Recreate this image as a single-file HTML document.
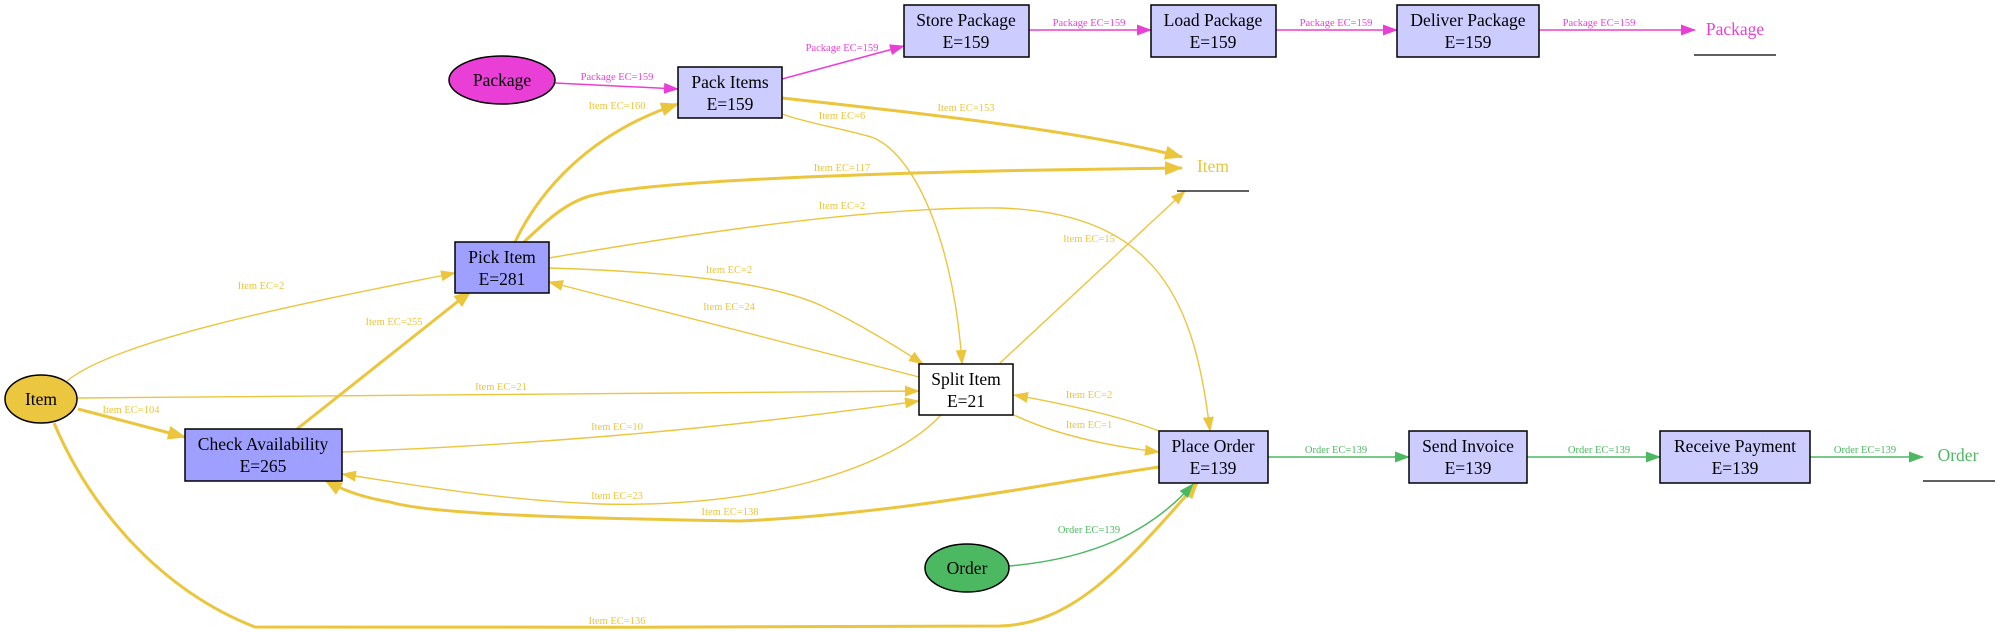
<!DOCTYPE html>
<html><head><meta charset="utf-8"><style>
html,body{margin:0;padding:0;background:#fff;width:2003px;height:632px;overflow:hidden}
svg{display:block}
.n{font-family:"Liberation Serif",serif;font-size:17.5px;fill:#000;text-anchor:middle}
.l{font-family:"Liberation Serif",serif;font-size:10.5px;text-anchor:middle}
.y{fill:#ebc53c}.p{fill:#ea3fd6}.g{fill:#4db862}
.ey{stroke:#ebc53c;fill:none}
.ep{stroke:#ea3fd6;fill:none;stroke-width:1.5}
.eg{stroke:#4db862;fill:none;stroke-width:1.5}
.t1{stroke-width:1.4}.t3{stroke-width:3}
.box{stroke:#000;stroke-width:1.5}
</style></head><body>
<svg width="2003" height="632" viewBox="0 0 2003 632" xmlns="http://www.w3.org/2000/svg">
<defs>
<marker id="ay" markerUnits="userSpaceOnUse" markerWidth="15" markerHeight="11" refX="14" refY="5.5" orient="auto"><path d="M0,0 L15,5.5 L0,11 z" fill="#ebc53c"/></marker>
<marker id="ayb" markerUnits="userSpaceOnUse" markerWidth="18" markerHeight="14" refX="17" refY="7" orient="auto"><path d="M0,0 L18,7 L0,14 z" fill="#ebc53c"/></marker>
<marker id="ap" markerUnits="userSpaceOnUse" markerWidth="15" markerHeight="11" refX="14" refY="5.5" orient="auto"><path d="M0,0 L15,5.5 L0,11 z" fill="#ea3fd6"/></marker>
<marker id="ag" markerUnits="userSpaceOnUse" markerWidth="15" markerHeight="11" refX="14" refY="5.5" orient="auto"><path d="M0,0 L15,5.5 L0,11 z" fill="#4db862"/></marker>
</defs>

<path class="ep" d="M555,83 L678,89" marker-end="url(#ap)"/>
<path class="ep" d="M782,79 L904,46" marker-end="url(#ap)"/>
<path class="ep" d="M1029,30 L1151,30" marker-end="url(#ap)"/>
<path class="ep" d="M1276,30 L1397,30" marker-end="url(#ap)"/>
<path class="ep" d="M1539,30 L1695,30" marker-end="url(#ap)"/>
<text class="l p" x="617" y="80">Package EC=159</text>
<text class="l p" x="842" y="51">Package EC=159</text>
<text class="l p" x="1089" y="26">Package EC=159</text>
<text class="l p" x="1336" y="26">Package EC=159</text>
<text class="l p" x="1599" y="26">Package EC=159</text>

<path class="ey t3" d="M782,98 C900,111 1080,130 1182,157" marker-end="url(#ayb)"/>
<path class="ey t3" d="M515,242 C540,190 590,133 678,104" marker-end="url(#ayb)"/>
<path class="ey t3" d="M524,242 C545,222 565,203 590,196 C650,180 900,171 1182,168" marker-end="url(#ayb)"/>
<path class="ey t1" d="M549,258 C700,232 880,206 1000,208 C1160,213 1195,305 1210,431" marker-end="url(#ay)"/>
<path class="ey t1" d="M549,268 C680,272 770,283 820,305 C860,324 900,349 923,364" marker-end="url(#ay)"/>
<path class="ey t1" d="M919,377 L549,282" marker-end="url(#ay)"/>
<path class="ey t1" d="M67,381 C120,337 330,298 455,273" marker-end="url(#ay)"/>
<path class="ey t3" d="M297,429 L471,291" marker-end="url(#ayb)"/>
<path class="ey t1" d="M78,398 L919,391" marker-end="url(#ay)"/>
<path class="ey t3" d="M78,409 L185,437" marker-end="url(#ayb)"/>
<path class="ey t1" d="M342,452 C520,445 700,432 919,401" marker-end="url(#ay)"/>
<path class="ey t1" d="M941,415 C890,470 760,508 600,504 C500,500 420,486 342,474" marker-end="url(#ay)"/>
<path class="ey t3" d="M1159,467 C1050,483 900,514 740,521 C560,518 430,514 390,502 C360,497 340,489 325,480" marker-end="url(#ayb)"/>
<path class="ey t3" d="M54,423 C90,508 160,590 255,627 C300,628 900,627 1000,626 C1070,624 1120,572 1198,482" marker-end="url(#ayb)"/>
<path class="ey t1" d="M782,114 C810,124 850,130 874,138 C920,159 955,254 962,364" marker-end="url(#ay)"/>
<path class="ey t1" d="M1000,363 L1185,191" marker-end="url(#ay)"/>
<path class="ey t1" d="M1159,431 C1120,416 1060,403 1014,395" marker-end="url(#ay)"/>
<path class="ey t1" d="M1014,415 C1050,432 1100,445 1159,452" marker-end="url(#ay)"/>
<text class="l y" x="966" y="111">Item EC=153</text>
<text class="l y" x="617" y="109">Item EC=160</text>
<text class="l y" x="842" y="171">Item EC=117</text>
<text class="l y" x="842" y="209">Item EC=2</text>
<text class="l y" x="729" y="273">Item EC=2</text>
<text class="l y" x="729" y="310">Item EC=24</text>
<text class="l y" x="261" y="289">Item EC=2</text>
<text class="l y" x="394" y="325">Item EC=255</text>
<text class="l y" x="501" y="390">Item EC=21</text>
<text class="l y" x="131" y="413">Item EC=104</text>
<text class="l y" x="617" y="430">Item EC=10</text>
<text class="l y" x="617" y="499">Item EC=23</text>
<text class="l y" x="730" y="515">Item EC=138</text>
<text class="l y" x="617" y="624">Item EC=136</text>
<text class="l y" x="842" y="119">Item EC=6</text>
<text class="l y" x="1089" y="242">Item EC=15</text>
<text class="l y" x="1089" y="398">Item EC=2</text>
<text class="l y" x="1089" y="428">Item EC=1</text>

<path class="eg" d="M1009,566 C1090,559 1150,533 1193,484" marker-end="url(#ag)"/>
<path class="eg" d="M1268,457 L1409,457" marker-end="url(#ag)"/>
<path class="eg" d="M1527,457 L1660,457" marker-end="url(#ag)"/>
<path class="eg" d="M1810,457 L1923,457" marker-end="url(#ag)"/>
<text class="l g" x="1089" y="533">Order EC=139</text>
<text class="l g" x="1336" y="453">Order EC=139</text>
<text class="l g" x="1599" y="453">Order EC=139</text>
<text class="l g" x="1865" y="453">Order EC=139</text>

<ellipse cx="41" cy="399" rx="36" ry="24" fill="#ebc63f" class="box"/>
<text class="n" x="41" y="405">Item</text>
<ellipse cx="502" cy="80" rx="53" ry="24" fill="#ea3fd6" class="box"/>
<text class="n" x="502" y="86">Package</text>
<ellipse cx="967" cy="568" rx="42" ry="24" fill="#4db862" class="box"/>
<text class="n" x="967" y="574">Order</text>

<rect x="185" y="429" width="157" height="52" fill="#9f9fff" class="box"/>
<text class="n" x="263" y="450">Check Availability</text><text class="n" x="263" y="472">E=265</text>
<rect x="455" y="242" width="94" height="51" fill="#9f9fff" class="box"/>
<text class="n" x="502" y="263">Pick Item</text><text class="n" x="502" y="285">E=281</text>
<rect x="678" y="67" width="104" height="51" fill="#ccccff" class="box"/>
<text class="n" x="730" y="88">Pack Items</text><text class="n" x="730" y="110">E=159</text>
<rect x="904" y="5" width="125" height="52" fill="#ccccff" class="box"/>
<text class="n" x="966" y="26">Store Package</text><text class="n" x="966" y="48">E=159</text>
<rect x="1151" y="5" width="125" height="52" fill="#ccccff" class="box"/>
<text class="n" x="1213" y="26">Load Package</text><text class="n" x="1213" y="48">E=159</text>
<rect x="1397" y="5" width="142" height="52" fill="#ccccff" class="box"/>
<text class="n" x="1468" y="26">Deliver Package</text><text class="n" x="1468" y="48">E=159</text>
<rect x="919" y="364" width="94" height="51" fill="#ffffff" class="box"/>
<text class="n" x="966" y="385">Split Item</text><text class="n" x="966" y="407">E=21</text>
<rect x="1159" y="431" width="109" height="52" fill="#ccccff" class="box"/>
<text class="n" x="1213" y="452">Place Order</text><text class="n" x="1213" y="474">E=139</text>
<rect x="1409" y="431" width="118" height="52" fill="#ccccff" class="box"/>
<text class="n" x="1468" y="452">Send Invoice</text><text class="n" x="1468" y="474">E=139</text>
<rect x="1660" y="431" width="150" height="52" fill="#ccccff" class="box"/>
<text class="n" x="1735" y="452">Receive Payment</text><text class="n" x="1735" y="474">E=139</text>

<text class="n p" x="1735" y="35">Package</text>
<line x1="1694" y1="55" x2="1776" y2="55" stroke="#000" stroke-width="1.3"/>
<text class="n y" x="1213" y="172">Item</text>
<line x1="1177" y1="191" x2="1249" y2="191" stroke="#000" stroke-width="1.3"/>
<text class="n g" x="1958" y="461">Order</text>
<line x1="1923" y1="481" x2="1995" y2="481" stroke="#000" stroke-width="1.3"/>
</svg>
</body></html>
